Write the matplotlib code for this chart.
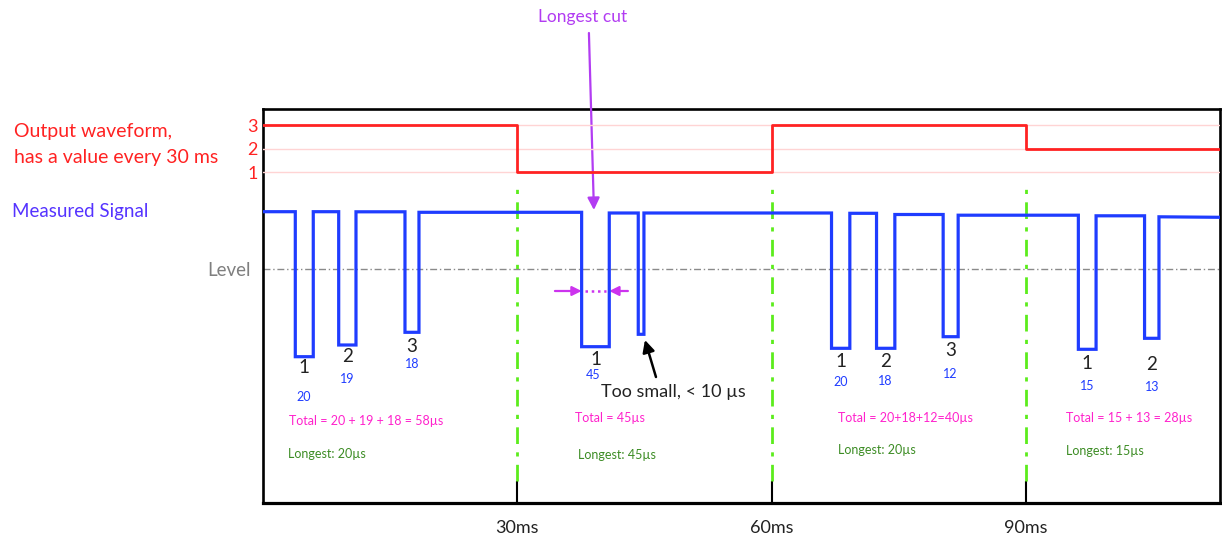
import matplotlib
matplotlib.use("Agg")
import matplotlib.pyplot as plt

plt.rcParams['font.family'] = ['Lato', 'DejaVu Sans']

# ---------------- data ----------------
window_ms = [30, 60, 90]
window_labels = ['30ms', '60ms', '90ms']
time_end_ms = 112.9

# output waveform (one value every 30 ms)
output_edges_ms = [0, 30, 60, 90]
output_values = [3, 1, 3, 2]
output_levels = [1, 2, 3]

# measured signal: dips (ms) and their bottom values (signal units)
dip_start = [3.81, 8.93, 16.75, 37.59, 44.27, 67.07, 72.38, 80.24, 96.19, 104.0]
dip_end = [5.93, 10.97, 18.40, 40.85, 44.94, 69.23, 74.54, 82.01, 98.28, 105.7]
dip_bottom = [1.463, 1.58, 1.707, 1.563, 1.687, 1.547, 1.547, 1.663, 1.537, 1.647]
high_values = [2.913, 2.913, 2.912, 2.907, 2.90, 2.90, 2.897, 2.885, 2.878, 2.872, 2.862, 2.857]
level_value = 2.34

# labels of each counted cut (spike excluded -> '')
cut_numbers = ['1', '2', '3', '1', '', '1', '2', '3', '1', '2']
cut_durations = ['20', '19', '18', '45', '', '20', '18', '12', '15', '13']

totals = ['Total = 20 + 19 + 18 = 58\u00b5s', 'Total = 45\u00b5s',
          'Total = 20+18+12=40\u00b5s', 'Total = 15 + 13 = 28\u00b5s']
longest = ['Longest: 20\u00b5s', 'Longest: 45\u00b5s', 'Longest: 20\u00b5s', 'Longest: 15\u00b5s']

# ---------------- layout / style ----------------
W, H = 1222, 544
num_offset_px = [11, 11, 14, 13, 0, 13, 13, 14, 14, 26]
dur_offset_px = [40, 34, 32, 28, 0, 34, 33, 37, 37, 49]
dur_dx_px = [-1, 0, 0, -2, 0, 0, 0, 0, 0, 0]
totals_x = [3.07, 36.86, 67.82, 94.7]
totals_y = [0.82, 0.85, 0.85, 0.85]
longest_x = [3.0, 37.2, 67.82, 94.7]
longest_y = [0.49, 0.48, 0.53, 0.52]

RED = '#ff2222'
BLUE = '#1f3cff'
GREEN_LINE = '#5cec1c'
MAGENTA = '#ff22cc'
DKGREEN = '#3c8c24'
PURPLE = '#b23cf2'

fig = plt.figure(figsize=(W / 100, H / 100), dpi=100)
pos = [263 / W, 41 / H, 957 / W, 394 / H]
ax = fig.add_axes(pos)
ax_red = fig.add_axes(pos, sharex=ax)
ax_red.patch.set_visible(False)
for s in ax_red.spines.values():
    s.set_visible(False)

ax.set_xlim(0, time_end_ms)
ax.set_ylim(0, 3.94)

# red output waveform
lvl1_px, lvl3_px = 503 - 172.3, 503 - 125.0
per = (lvl3_px - lvl1_px) / 2
ax_red.set_ylim(1 - lvl1_px / per, 3 + (394 - lvl3_px) / per)
for lv in output_levels:
    ax_red.axhline(lv, color='#ffd4d4', lw=1.0, zorder=1)
ax_red.step(output_edges_ms + [time_end_ms], output_values + [output_values[-1]],
            where='post', color=RED, lw=2.0, zorder=3)
ax_red.set_yticks(output_levels)
ax_red.set_yticklabels([str(v) for v in output_levels])
ax_red.tick_params(axis='y', length=0, pad=4, labelcolor=RED, labelsize=13)
ax_red.tick_params(axis='x', which='both', bottom=False, labelbottom=False)

# measured signal
xs = [0]
ys = [high_values[0]]
for i, (a, b, d) in enumerate(zip(dip_start, dip_end, dip_bottom)):
    xs += [a, a, b, b]
    ys += [high_values[i], d, d, high_values[i + 1]]
xs.append(time_end_ms)
ys.append(high_values[-1])
ax.plot(xs, ys, color=BLUE, lw=2.3, zorder=4, solid_joinstyle='miter')

# level line
ax.axhline(level_value, color='#8a8a8a', lw=1.0, ls=(0, (5, 2, 1, 2)), zorder=2)
ax.set_yticks([level_value])
ax.set_yticklabels(['Level'])
ax.tick_params(axis='y', length=0, pad=9, labelcolor='#7f7f7f', labelsize=13.5)

# window boundaries
ax.vlines(window_ms, 22 / 100, (503 - 184) / 100, colors=GREEN_LINE, lw=2.0,
          linestyles=[(0, (6, 3, 1.5, 3))], zorder=2)
ax.set_xticks(window_ms)
ax.set_xticklabels(window_labels)
ax.tick_params(axis='x', direction='in', length=15.5, width=1.5, color='black',
               pad=12, labelsize=13, labelcolor='#222222')

for s in ax.spines.values():
    s.set_linewidth(1.9)
    s.set_color('black')
ax.spines['bottom'].set_linewidth(2.3)

# cut labels
for i, (a, b, d) in enumerate(zip(dip_start, dip_end, dip_bottom)):
    if not cut_numbers[i]:
        continue
    cx = (a + b) / 2
    ax.annotate(cut_numbers[i], (cx, d), xytext=(0, -num_offset_px[i] * 0.72),
                textcoords='offset points', ha='center', va='center',
                fontsize=13.5, color='#222222')
    ax.annotate(cut_durations[i], (cx, d),
                xytext=(dur_dx_px[i] * 0.72, -dur_offset_px[i] * 0.72),
                textcoords='offset points', ha='center', va='center',
                fontsize=9, color=BLUE)

for i in range(4):
    ax.text(totals_x[i], totals_y[i], totals[i], color=MAGENTA, fontsize=9,
            ha='left', va='center')
    ax.text(longest_x[i], longest_y[i], longest[i], color=DKGREEN, fontsize=9,
            ha='left', va='center')

# longest-cut width marker
mk_y = (503 - 291) / 100
ax.annotate('', xy=(dip_start[3], mk_y), xytext=(34.44, mk_y),
            arrowprops=dict(arrowstyle='-|>', color='#cc33ee', lw=1.6,
                            mutation_scale=14, shrinkA=0, shrinkB=0))
ax.annotate('', xy=(dip_end[3], mk_y), xytext=(43.05, mk_y),
            arrowprops=dict(arrowstyle='-|>', color='#cc33ee', lw=1.6,
                            mutation_scale=14, shrinkA=0, shrinkB=0))
ax.plot([dip_start[3] + 0.4, dip_end[3] - 0.4], [mk_y, mk_y], color='#cc33ee',
        lw=1.8, ls=(0, (1, 1.5)), zorder=5)

# too small spike arrow
ax.annotate('', xy=(45.06, 1.63), xytext=(46.36, 1.26),
            arrowprops=dict(arrowstyle='-|>', color='black', lw=1.8,
                            mutation_scale=18, shrinkA=0, shrinkB=0))
ax.text(48.4, 1.113, 'Too small, < 10 \u00b5s', fontsize=13, color='#222222',
        ha='center', va='center')

# longest cut arrow and title
ax.annotate('', xy=(39.04, 2.93), xytext=(38.45, (503 - 33) / 100),
            annotation_clip=False,
            arrowprops=dict(arrowstyle='-|>', color=PURPLE, lw=1.6,
                            mutation_scale=18, shrinkA=0, shrinkB=0))
fig.text(583 / W, 1 - 17 / H, 'Longest cut', color=PURPLE, fontsize=12.5,
         ha='center', va='center')

# left side captions
fig.text(14 / W, 1 - 131 / H, 'Output waveform,', color=RED, fontsize=14,
         ha='left', va='center')
fig.text(14 / W, 1 - 157 / H, 'has a value every 30 ms', color=RED, fontsize=14,
         ha='left', va='center')
fig.text(12 / W, 1 - 212 / H, 'Measured Signal', color='#5533ff', fontsize=13.5,
         ha='left', va='center')

fig.savefig('out.png', dpi=100)
